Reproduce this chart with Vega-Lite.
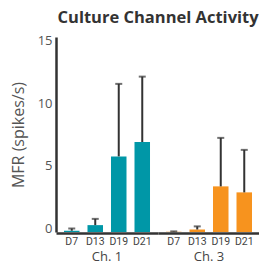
{
  "$schema": "https://vega.github.io/schema/vega-lite/v6.json",
  "padding": {"left": 10, "top": 9, "right": 0, "bottom": 0},
  "background": "white",
  "title": {"text": "Culture Channel Activity", "fontSize": 16.5, "fontWeight": "bold", "font": "Open Sans", "color": "#333333", "anchor": "middle", "dx": 23, "offset": 8},
  "data": {"values": [
    {"channel": "Ch. 1", "day": "D7", "mfr": 0.1, "upper": 0.28},
    {"channel": "Ch. 1", "day": "D13", "mfr": 0.55, "upper": 1.05},
    {"channel": "Ch. 1", "day": "D19", "mfr": 6.05, "upper": 11.85},
    {"channel": "Ch. 1", "day": "D21", "mfr": 7.2, "upper": 12.43},
    {"channel": "Ch. 3", "day": "D7", "mfr": 0.02, "upper": 0.05},
    {"channel": "Ch. 3", "day": "D13", "mfr": 0.2, "upper": 0.45},
    {"channel": "Ch. 3", "day": "D19", "mfr": 3.65, "upper": 7.53},
    {"channel": "Ch. 3", "day": "D21", "mfr": 3.17, "upper": 6.57}
  ]},
  "facet": {"column": {"field": "channel", "type": "nominal", "header": {"title": null, "labelOrient": "bottom", "labelFontSize": 13, "labelColor": "#444444", "labelFont": "Open Sans", "labelPadding": 4}}},
  "spacing": 0,
  "spec": {
    "width": 102,
    "height": 195,
    "encoding": {
      "x": {"field": "day", "type": "nominal", "sort": ["D7", "D13", "D19", "D21"], "scale": {"paddingInner": 0.34, "paddingOuter": 0.34},
        "axis": {"title": null, "labelAngle": 0, "ticks": false, "labelFontSize": 10.5, "labelColor": "#444444", "labelFont": "Roboto", "labelPadding": 3, "domainColor": "#333333", "domainWidth": 2.5}}
    },
    "layer": [
      {"mark": {"type": "bar"},
        "encoding": {
          "y": {"field": "mfr", "type": "quantitative", "scale": {"domain": [0, 15.6], "nice": false},
            "axis": {"title": "MFR (spikes/s)", "titleFontSize": 16, "titleFont": "Open Sans", "titleFontWeight": "normal", "titleColor": "#555555", "titlePadding": 11, "values": [0, 5, 10, 15], "grid": false, "ticks": false, "labelFontSize": 13, "labelColor": "#555555", "labelFont": "Open Sans", "labelPadding": 4, "labelOffset": -4, "domainColor": "#333333", "domainWidth": 2.5}},
          "color": {"field": "channel", "type": "nominal", "scale": {"domain": ["Ch. 1", "Ch. 3"], "range": ["#0097A7", "#F7931E"]}, "legend": null}
        }},
      {"mark": {"type": "rule", "color": "#333333", "strokeWidth": 2},
        "encoding": {"y": {"field": "mfr", "type": "quantitative"}, "y2": {"field": "upper"}}},
      {"mark": {"type": "tick", "color": "#333333", "thickness": 2, "size": 7},
        "encoding": {"y": {"field": "upper", "type": "quantitative"}}}
    ]
  },
  "config": {"view": {"stroke": null}}
}
